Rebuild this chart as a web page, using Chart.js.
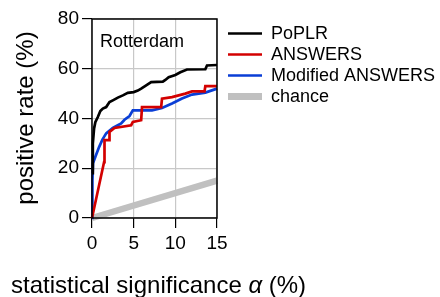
<!DOCTYPE html>
<html>
<head>
<meta charset="utf-8">
<script src="https://cdn.jsdelivr.net/npm/chart.js@4.4.0/dist/chart.umd.min.js"></script>
<style>
  html,body{margin:0;padding:0;background:#fff}
  #wrap{width:440px;height:297px;position:relative}
</style>
</head>
<body>
<div id="wrap"><canvas id="c" width="440" height="297"></canvas></div>
<script>
// data (alpha in %, positive rate in %)
const poplrAlpha = [0, 0.1, 0.25, 0.4, 0.7, 1.0, 1.3, 1.7, 2.1, 2.5, 3.1, 3.7, 4.3, 5.0, 5.5, 5.9, 6.5, 7.1, 8.5, 8.8, 9.2, 10.0, 10.6, 11.4, 13.6, 13.8, 15];
const poplrRate  = [18, 30, 36, 38.5, 40.6, 43, 44, 44.6, 46.6, 47.3, 48.4, 49.3, 50.3, 50.6, 51.2, 52, 53.3, 54.6, 54.8, 55.5, 56.6, 57.5, 58.6, 59.7, 59.8, 61.3, 61.5];
const answersAlpha = [0, 1.45, 1.5, 2.05, 2.1, 2.7, 4.7, 4.9, 5.9, 6.0, 8.3, 8.4, 9.6, 11.2, 12, 13.5, 13.6, 15];
const answersRate  = [0, 22.5, 31.3, 31.3, 34.6, 36.2, 37.3, 38.6, 39.3, 44.6, 44.6, 48, 48.6, 50, 50.9, 50.9, 53, 53];
const modAlpha = [0, 0.05, 0.12, 0.45, 0.85, 1.25, 1.7, 2.5, 3.1, 3.5, 3.9, 4.5, 4.9, 7.2, 8.4, 9.6, 10.8, 12, 13.6, 15];
const modRate  = [0, 15, 22, 25, 28.5, 31.5, 34, 36.2, 37.3, 38, 39.5, 41, 43.3, 43.3, 44.2, 46, 48, 49.6, 50.4, 52];
const chanceAlpha = [0, 15];
const chanceRate  = [0, 15];
const seriesNames = ['PoPLR', 'ANSWERS', 'Modified ANSWERS', 'chance'];
const xTicks = [0, 5, 10, 15];
const yTicks = [0, 20, 40, 60, 80];

const FONT = "'Liberation Sans', Arial, sans-serif";
const pts = (xs, ys) => xs.map((x, i) => ({x, y: ys[i]}));

function ds(label, data, color, width){
  return {label, data, borderColor: color, backgroundColor: color, borderWidth: width,
    pointRadius: 0, tension: 0, clip: false, borderCapStyle: 'butt', borderJoinStyle: 'miter'};
}

// frame, legend, panel label and axis titles
const deco = {
  id: 'deco',
  afterDatasetsDraw(chart){
    const {ctx, chartArea: a} = chart;
    ctx.save();
    ctx.strokeStyle = '#000'; ctx.lineWidth = 1.5;
    ctx.strokeRect(a.left, a.top, a.right - a.left, a.bottom - a.top);

    ctx.fillStyle = '#000';
    ctx.font = '18px ' + FONT;
    ctx.textBaseline = 'alphabetic';
    ctx.fillText('Rotterdam', 100, 46.5);

    // legend
    const rows = [33.5, 54.5, 75.5, 96.5];
    chart.data.datasets.forEach((d, i) => {
      ctx.strokeStyle = d.borderColor;
      ctx.lineWidth = i === 3 ? 7 : 2.7;
      ctx.beginPath(); ctx.moveTo(228, rows[i]); ctx.lineTo(262, rows[i]); ctx.stroke();
      ctx.fillStyle = '#000';
      ctx.textBaseline = 'middle';
      ctx.fillText(d.label, 271, rows[i] + 1);
    });

    // x title with italic alpha
    ctx.textBaseline = 'alphabetic';
    ctx.font = '24px ' + FONT;
    let x = 11;
    const y = 293;
    const p1 = 'statistical significance ';
    ctx.fillText(p1, x, y); x += ctx.measureText(p1).width;
    ctx.font = 'italic 24px ' + FONT;
    ctx.fillText('α', x, y); x += ctx.measureText('α').width;
    ctx.font = '24px ' + FONT;
    ctx.fillText(' (%)', x, y);

    // y title
    ctx.translate(33, 118);
    ctx.rotate(-Math.PI / 2);
    ctx.textAlign = 'center';
    ctx.fillText('positive rate (%)', 0, 0);
    ctx.restore();
  }
};

Chart.defaults.animation = false;
new Chart(document.getElementById('c').getContext('2d'), {
  type: 'line',
  data: {
    datasets: [
      ds(seriesNames[0], pts(poplrAlpha, poplrRate), '#000000', 2.7),
      ds(seriesNames[1], pts(answersAlpha, answersRate), '#d30000', 2.7),
      ds(seriesNames[2], pts(modAlpha, modRate), '#0a3ed6', 2.7),
      ds(seriesNames[3], pts(chanceAlpha, chanceRate), '#c0c0c0', 6.5)
    ]
  },
  options: {
    responsive: false,
    layout: {padding: {left: 0, top: 19, right: 223, bottom: 0}},
    plugins: {legend: {display: false}, tooltip: {enabled: false}},
    scales: {
      x: {
        type: 'linear', min: 0, max: 15,
        afterBuildTicks: s => { s.ticks = xTicks.map(v => ({value: v})); },
        afterFit: s => { s.height = 79; },
        grid: {color: '#c8c8c8', lineWidth: 1.2, tickColor: '#000', tickLength: 10, tickWidth: 1.2},
        border: {display: false},
        ticks: {color: '#000', font: {family: FONT, size: 19}, padding: 4, maxRotation: 0, autoSkip: false}
      },
      y: {
        type: 'linear', min: 0, max: 80,
        afterBuildTicks: s => { s.ticks = yTicks.map(v => ({value: v})); },
        afterFit: s => { s.width = 92; },
        grid: {color: '#c8c8c8', lineWidth: 1.2, tickColor: '#000', tickLength: 10, tickWidth: 1.2},
        border: {display: false},
        ticks: {color: '#000', font: {family: FONT, size: 19}, padding: 3, autoSkip: false}
      }
    }
  },
  plugins: [deco]
});
</script>
</body>
</html>
